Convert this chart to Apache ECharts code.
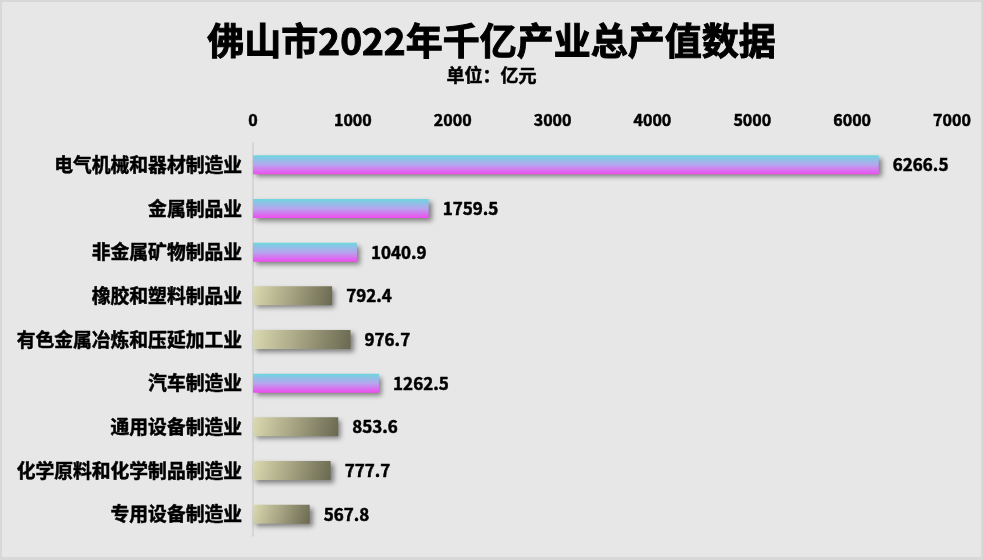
<!DOCTYPE html>
<html>
<head>
<meta charset="utf-8">
<script src="https://cdn.jsdelivr.net/npm/echarts@6/dist/echarts.min.js"></script>
<style>
html,body{margin:0;padding:0;background:#d8d8d8;width:983px;height:560px;overflow:hidden;}
#c{position:absolute;left:2px;top:2px;width:979px;height:555px;background:#e7e7e7;}
</style>
</head>
<body>
<div id="c"></div>
<script>
const categories = ['电气机械和器材制造业','金属制品业','非金属矿物制品业','橡胶和塑料制品业','有色金属冶炼和压延加工业','汽车制造业','通用设备制造业','化学原料和化学制品制造业','专用设备制造业'];
const values = [6266.5, 1759.5, 1040.9, 792.4, 976.7, 1262.5, 853.6, 777.7, 567.8];
const highlighted = [true, true, true, false, false, true, false, false, false];
const xTicks = [0, 1000, 2000, 3000, 4000, 5000, 6000, 7000];

const font = '"Noto Sans CJK SC", "Noto Sans", sans-serif';
const heavy = {fontFamily: font, fontWeight: 'bold', color: '#000', textBorderColor: '#000', textBorderWidth: 0.5};
const pinkGrad = new echarts.graphic.LinearGradient(0, 0, 0, 1, [
  {offset: 0, color: '#6fd6df'},
  {offset: 0.5, color: '#b6a6ee'},
  {offset: 1, color: '#f04cf0'}
]);
const oliveGrad = new echarts.graphic.LinearGradient(0, 0, 1, 1, [
  {offset: 0, color: '#dcdab0'},
  {offset: 1, color: '#6a6850'}
]);

const chart = echarts.init(document.getElementById('c'));
chart.setOption({
  backgroundColor: '#e7e7e7',
  title: [
    {text: '佛山市2022年千亿产业总产值数据', left: 'center', top: 15,
     textStyle: Object.assign({}, heavy, {fontSize: 37, textBorderWidth: 1})},
    {text: '单位：亿元', left: 'center', top: 59,
     textStyle: Object.assign({}, heavy, {fontSize: 18})}
  ],
  grid: {left: 251, right: 29, top: 141, bottom: 21, containLabel: false},
  xAxis: {
    type: 'value', position: 'top', min: xTicks[0], max: xTicks[xTicks.length - 1], interval: 1000,
    axisLine: {show: false}, axisTick: {show: false}, splitLine: {show: false},
    axisLabel: Object.assign({}, heavy, {fontSize: 16, margin: 15, formatter: v => String(v)})
  },
  yAxis: {
    type: 'category', inverse: true, data: categories,
    axisLine: {show: true, lineStyle: {color: '#d0d0d0', width: 1.5}},
    axisTick: {show: false},
    axisLabel: Object.assign({}, heavy, {fontSize: 18.8, margin: 11})
  },
  series: [{
    type: 'bar', barWidth: 19,
    data: values.map((v, i) => ({
      value: v,
      itemStyle: {color: highlighted[i] ? pinkGrad : oliveGrad}
    })),
    itemStyle: {shadowColor: 'rgba(0,0,0,0.45)', shadowBlur: 5, shadowOffsetX: 3, shadowOffsetY: 3},
    label: Object.assign({show: true, position: 'right', distance: 14, fontSize: 17,
      formatter: p => p.value.toFixed(1)}, heavy),
    animation: false
  }],
  animation: false
});
</script>
</body>
</html>
